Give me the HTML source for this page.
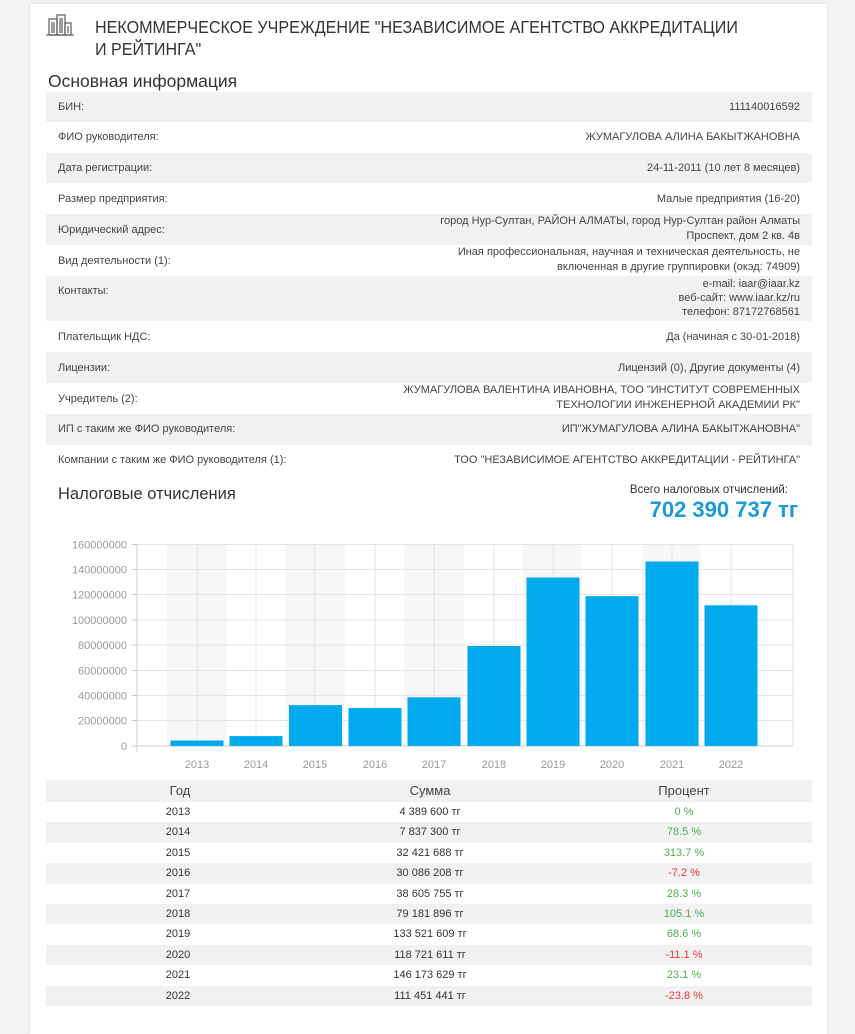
<!DOCTYPE html>
<html><head><meta charset="utf-8"><style>
body{margin:0;width:855px;height:1024px;background:#f3f3f3;font-family:"Liberation Sans","Noto Sans CJK SC",sans-serif;color:#333;position:relative;overflow:hidden}
.card{position:absolute;left:30px;top:4px;width:797px;height:1030px;background:#fff;box-shadow:0 0 2px #ccc}
.a{position:absolute}
.row{position:absolute;left:46px;width:766px;font-size:11px;color:#444}
.row .l{position:absolute;left:12px}
.row .r{position:absolute;right:12px;text-align:right;line-height:15px}
.g{background:#f1f1f1}
.t{position:absolute;left:46px;width:766px;height:20.4px;font-size:11px;color:#333}
.t span{position:absolute;top:4px;transform:translateX(-50%)}
</style></head><body>
<div class="card"></div>
<svg class="a" style="left:46px;top:13px" width="28" height="24"><g fill="none" stroke="#666" stroke-width="1.3"><rect x="3" y="6" width="8" height="16"/><rect x="11" y="2" width="8" height="20"/><rect x="19" y="10" width="6" height="12"/><line x1="6" y1="9" x2="6" y2="20"/><line x1="8" y1="9" x2="8" y2="20"/><line x1="14" y1="5" x2="14" y2="20"/><line x1="16" y1="5" x2="16" y2="20"/><line x1="22" y1="13" x2="22" y2="20"/><line x1="0" y1="22" x2="28" y2="22"/></g></svg>
<div class="a" style="left:95px;top:16px;font-size:17.5px;line-height:22px;color:#333;transform:scaleX(0.92);transform-origin:left top;white-space:nowrap">НЕКОММЕРЧЕСКОЕ УЧРЕЖДЕНИЕ "НЕЗАВИСИМОЕ АГЕНТСТВО АККРЕДИТАЦИИ<br>И РЕЙТИНГА"</div>
<div class="a" style="left:48px;top:71px;font-size:17.5px;color:#333">Основная информация</div>

<div class="row g" style="top:92px;height:30px"><span class="l" style="top:9px">БИН:</span><span class="r" style="top:8px">111140016592</span></div>
<div class="row" style="top:122px;height:31px"><span class="l" style="top:9px">ФИО руководителя:</span><span class="r" style="top:8px">ЖУМАГУЛОВА АЛИНА БАКЫТЖАНОВНА</span></div>
<div class="row g" style="top:153px;height:30px"><span class="l" style="top:9px">Дата регистрации:</span><span class="r" style="top:8px">24-11-2011 (10 лет 8 месяцев)</span></div>
<div class="row" style="top:183px;height:31px"><span class="l" style="top:10px">Размер предприятия:</span><span class="r" style="top:9px">Малые предприятия (16-20)</span></div>
<div class="row g" style="top:214px;height:31px"><span class="l" style="top:10px">Юридический адрес:</span><span class="r" style="top:0px">город Нур-Султан, РАЙОН АЛМАТЫ, город Нур-Султан район Алматы<br>Проспект, дом 2 кв. 4в</span></div>
<div class="row" style="top:245px;height:31px"><span class="l" style="top:10px">Вид деятельности (1):</span><span class="r" style="top:0px">Иная профессиональная, научная и техническая деятельность, не<br>включенная в другие группировки (окэд: 74909)</span></div>
<div class="row g" style="top:276px;height:45px"><span class="l" style="top:9px">Контакты:</span><span class="r" style="top:1px;line-height:14px">e-mail: iaar@iaar.kz<br>веб-сайт: www.iaar.kz/ru<br>телефон: 87172768561</span></div>
<div class="row" style="top:321px;height:31px"><span class="l" style="top:10px">Плательщик НДС:</span><span class="r" style="top:9px">Да (начиная с 30-01-2018)</span></div>
<div class="row g" style="top:352px;height:31px"><span class="l" style="top:10px">Лицензии:</span><span class="r" style="top:9px">Лицензий (0), Другие документы (4)</span></div>
<div class="row" style="top:383px;height:31px"><span class="l" style="top:10px">Учредитель (2):</span><span class="r" style="top:0px">ЖУМАГУЛОВА ВАЛЕНТИНА ИВАНОВНА, ТОО "ИНСТИТУТ СОВРЕМЕННЫХ<br>ТЕХНОЛОГИИ ИНЖЕНЕРНОЙ АКАДЕМИИ РК"</span></div>
<div class="row g" style="top:414px;height:31px"><span class="l" style="top:9px">ИП с таким же ФИО руководителя:</span><span class="r" style="top:8px">ИП"ЖУМАГУЛОВА АЛИНА БАКЫТЖАНОВНА"</span></div>
<div class="row" style="top:445px;height:31px"><span class="l" style="top:9px">Компании с таким же ФИО руководителя (1):</span><span class="r" style="top:8px">ТОО "НЕЗАВИСИМОЕ АГЕНТСТВО АККРЕДИТАЦИИ - РЕЙТИНГА"</span></div>

<div class="a" style="left:58px;top:485px;font-size:16.5px;color:#333">Налоговые отчисления</div>
<div class="a" style="right:67px;top:484px;font-size:11.5px;color:#333">Всего налоговых отчислений:</div>
<div class="a" style="right:57px;top:497px;font-size:22px;color:#1a9bd7;font-weight:bold">702 390 737 тг</div>

<svg class="a" style="left:0;top:530px" width="855" height="250" font-family="Liberation Sans, sans-serif" font-size="11" fill="#999">
<g>
<rect x="167" y="14" width="59.3" height="202" fill="#f7f7f7"/>
<rect x="285.6" y="14" width="59.3" height="202" fill="#f7f7f7"/>
<rect x="404.2" y="14" width="59.3" height="202" fill="#f7f7f7"/>
<rect x="522.8" y="14" width="59.3" height="202" fill="#f7f7f7"/>
<rect x="641.4" y="14" width="59.3" height="202" fill="#f7f7f7"/>
</g>
<g stroke="#e6e6e6" stroke-width="1">
<line x1="137" x2="793" y1="14.5" y2="14.5"/><line x1="137" x2="793" y1="39.5" y2="39.5"/><line x1="137" x2="793" y1="64.5" y2="64.5"/><line x1="137" x2="793" y1="90" y2="90"/><line x1="137" x2="793" y1="115" y2="115"/><line x1="137" x2="793" y1="140.5" y2="140.5"/><line x1="137" x2="793" y1="165.5" y2="165.5"/><line x1="137" x2="793" y1="190.5" y2="190.5"/>
<line x1="197" x2="197" y1="14" y2="216"/><line x1="256" x2="256" y1="14" y2="216"/><line x1="315" x2="315" y1="14" y2="216"/><line x1="375" x2="375" y1="14" y2="216"/><line x1="434" x2="434" y1="14" y2="216"/><line x1="494" x2="494" y1="14" y2="216"/><line x1="553" x2="553" y1="14" y2="216"/><line x1="612" x2="612" y1="14" y2="216"/><line x1="672" x2="672" y1="14" y2="216"/><line x1="731" x2="731" y1="14" y2="216"/>
<line x1="793" x2="793" y1="14" y2="216" stroke="#ddd"/>
</g>
<g stroke="#ccc"><line x1="137" x2="137" y1="14" y2="222"/><line x1="137" x2="793" y1="216" y2="216"/>
<line x1="132" x2="137" y1="14.5" y2="14.5"/><line x1="132" x2="137" y1="39.5" y2="39.5"/><line x1="132" x2="137" y1="64.5" y2="64.5"/><line x1="132" x2="137" y1="90" y2="90"/><line x1="132" x2="137" y1="115" y2="115"/><line x1="132" x2="137" y1="140.5" y2="140.5"/><line x1="132" x2="137" y1="165.5" y2="165.5"/><line x1="132" x2="137" y1="190.5" y2="190.5"/><line x1="132" x2="137" y1="216" y2="216"/></g>
<g fill="#00aaee">
<rect x="170.5" y="210.5" width="53" height="5.5"/>
<rect x="229.5" y="206.1" width="53" height="9.9"/>
<rect x="289" y="175.1" width="53" height="40.9"/>
<rect x="348.5" y="178" width="53" height="38"/>
<rect x="407.5" y="167.3" width="53" height="48.7"/>
<rect x="467.5" y="116" width="53" height="100"/>
<rect x="526.5" y="47.5" width="53" height="168.5"/>
<rect x="585.5" y="66.1" width="53" height="149.9"/>
<rect x="645.5" y="31.5" width="53" height="184.5"/>
<rect x="704.5" y="75.3" width="53" height="140.7"/>
</g>
<g text-anchor="end">
<text x="127" y="18.5">160000000</text><text x="127" y="43.5">140000000</text><text x="127" y="68.5">120000000</text><text x="127" y="94">100000000</text><text x="127" y="119">80000000</text><text x="127" y="144.5">60000000</text><text x="127" y="169.5">40000000</text><text x="127" y="194.5">20000000</text><text x="127" y="220">0</text></g>
<g text-anchor="middle">
<text x="197" y="238">2013</text><text x="256" y="238">2014</text><text x="315" y="238">2015</text><text x="375" y="238">2016</text><text x="434" y="238">2017</text><text x="494" y="238">2018</text><text x="553" y="238">2019</text><text x="612" y="238">2020</text><text x="672" y="238">2021</text><text x="731" y="238">2022</text></g>
</svg>

<div class="t g" style="top:780px;height:22px;font-size:13px;color:#444"><span style="left:134px;top:3px">Год</span><span style="left:384px;top:3px">Сумма</span><span style="left:638px;top:3px">Процент</span></div>
<div class="t" style="top:802px"><span style="left:132px">2013</span><span style="left:384px">4 389 600 тг</span><span style="left:638px;color:#4caf50">0 %</span></div>
<div class="t g" style="top:822.4px"><span style="left:132px">2014</span><span style="left:384px">7 837 300 тг</span><span style="left:638px;color:#4caf50">78.5 %</span></div>
<div class="t" style="top:842.8px"><span style="left:132px">2015</span><span style="left:384px">32 421 688 тг</span><span style="left:638px;color:#4caf50">313.7 %</span></div>
<div class="t g" style="top:863.2px"><span style="left:132px">2016</span><span style="left:384px">30 086 208 тг</span><span style="left:638px;color:#e53935">-7.2 %</span></div>
<div class="t" style="top:883.6px"><span style="left:132px">2017</span><span style="left:384px">38 605 755 тг</span><span style="left:638px;color:#4caf50">28.3 %</span></div>
<div class="t g" style="top:904px"><span style="left:132px">2018</span><span style="left:384px">79 181 896 тг</span><span style="left:638px;color:#4caf50">105.1 %</span></div>
<div class="t" style="top:924.4px"><span style="left:132px">2019</span><span style="left:384px">133 521 609 тг</span><span style="left:638px;color:#4caf50">68.6 %</span></div>
<div class="t g" style="top:944.8px"><span style="left:132px">2020</span><span style="left:384px">118 721 611 тг</span><span style="left:638px;color:#e53935">-11.1 %</span></div>
<div class="t" style="top:965.2px"><span style="left:132px">2021</span><span style="left:384px">146 173 629 тг</span><span style="left:638px;color:#4caf50">23.1 %</span></div>
<div class="t g" style="top:985.6px"><span style="left:132px">2022</span><span style="left:384px">111 451 441 тг</span><span style="left:638px;color:#e53935">-23.8 %</span></div>
</body></html>
